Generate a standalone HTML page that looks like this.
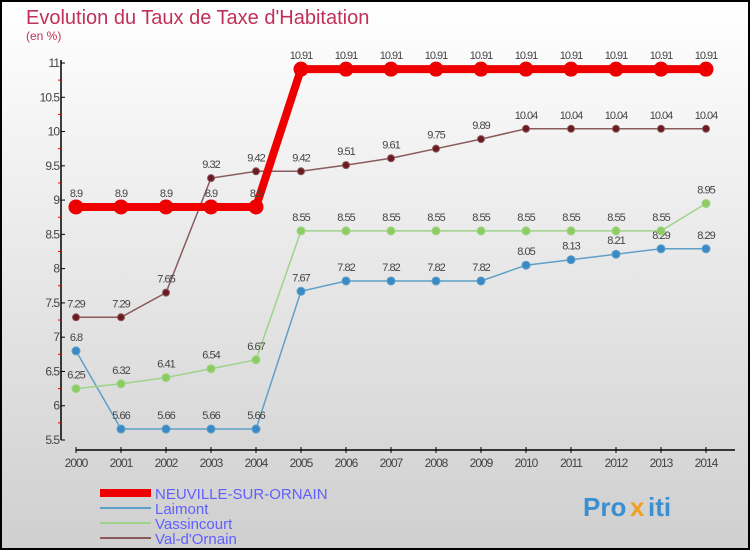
<!DOCTYPE html>
<html><head><meta charset="utf-8"><style>
body{margin:0;}
svg{display:block;font-family:"Liberation Sans",sans-serif;}
</style></head><body>
<svg id="c" width="750" height="550" xmlns="http://www.w3.org/2000/svg">
<defs><linearGradient id="bg" x1="0" y1="0" x2="0" y2="1"><stop offset="0" stop-color="#ffffff"/><stop offset="1" stop-color="#cfcfcf"/></linearGradient></defs>
<rect x="1" y="1" width="748" height="548" fill="url(#bg)" stroke="#000" stroke-width="2"/>
<text x="26" y="24" font-size="20" fill="#c0305a">Evolution du Taux de Taxe d'Habitation</text>
<text x="26" y="40" font-size="12" fill="#c0305a">(en %)</text>
<g id="axes"></g><g id="series"></g>
<g>
<rect x="100" y="489" width="51" height="8" fill="#e00"/>
<text x="155" y="499" font-size="15" fill="#6060ff">NEUVILLE-SUR-ORNAIN</text>
<rect x="100" y="507" width="51" height="2" fill="#5fa0c8"/>
<text x="155" y="514" font-size="15" fill="#6060ff">Laimont</text>
<rect x="100" y="522" width="51" height="2" fill="#9ed48a"/>
<text x="155" y="529" font-size="15" fill="#6060ff">Vassincourt</text>
<rect x="100" y="537" width="51" height="2" fill="#8a5a5a"/>
<text x="155" y="544" font-size="15" fill="#6060ff">Val-d'Ornain</text>
</g>
<g font-size="26" font-weight="bold">
<text x="583" y="516" fill="#3a8fd0">Pro</text><text x="630" y="516" fill="#f0a020">x</text><text x="648" y="516" fill="#3a8fd0">iti</text>
</g>
</svg>
<script>
const years=[2000,2001,2002,2003,2004,2005,2006,2007,2008,2009,2010,2011,2012,2013,2014];
const neuville=[8.9,8.9,8.9,8.9,8.9,10.91,10.91,10.91,10.91,10.91,10.91,10.91,10.91,10.91,10.91];
const laimont=[6.8,5.66,5.66,5.66,5.66,7.67,7.82,7.82,7.82,7.82,8.05,8.13,8.21,8.29,8.29];
const vassincourt=[6.25,6.32,6.41,6.54,6.67,8.55,8.55,8.55,8.55,8.55,8.55,8.55,8.55,8.55,8.95];
const valdornain=[7.29,7.29,7.65,9.32,9.42,9.42,9.51,9.61,9.75,9.89,10.04,10.04,10.04,10.04,10.04];
const yTicks=[5.5,6,6.5,7,7.5,8,8.5,9,9.5,10,10.5,11];
const NS="http://www.w3.org/2000/svg";
const X=i=>76+i*(706-76)/(years.length-1);
const Y=v=>440-(v-5.5)*(377/5.5);
function mk(t,a,p){const e=document.createElementNS(NS,t);for(const k in a)e.setAttribute(k,a[k]);p.appendChild(e);return e;}
const ax=document.getElementById('axes');
let l=mk('line',{x1:61,y1:60,x2:61,y2:440,stroke:'#000','stroke-width':1.5},ax);


l=mk('line',{x1:76,y1:450,x2:735,y2:450,stroke:'#000','stroke-width':1.5},ax);


yTicks.forEach((v,i)=>{
 mk('line',{x1:61,y1:Y(v),x2:65,y2:Y(v),stroke:'#000'},ax);
 if(i<yTicks.length-1)mk('line',{x1:58,y1:Y(v+0.25),x2:61,y2:Y(v+0.25),stroke:'#e00'},ax);
 const t=mk('text',{x:59,y:Y(v)+4,'font-size':12,fill:'#444','text-anchor':'end','letter-spacing':'-1'},ax);
 t.textContent=String(v);
 
 
});
years.forEach((y,i)=>{
 mk('line',{x1:X(i),y1:447,x2:X(i),y2:453,stroke:'#000'},ax);
 const t=mk('text',{x:X(i),y:467,'font-size':12,fill:'#444','text-anchor':'middle','letter-spacing':'-1'},ax);
 t.textContent=String(y);
 
 
});
const sg=document.getElementById('series');
function series(name,data,col,dot,w,r){
 const g=mk('g',{},sg);
 
 
 mk('polyline',{points:data.map((v,i)=>X(i)+','+Y(v)).join(' '),fill:'none',stroke:col,'stroke-width':w},g);
 data.forEach((v,i)=>{
  const c=mk('circle',{cx:X(i),cy:Y(v),r:r,fill:dot,stroke:col,'stroke-width':1},g);
  
  
  const t=mk('text',{x:X(i),y:Y(v)-10,'font-size':11,fill:'#444','text-anchor':'middle','letter-spacing':'-1'},g);
  t.textContent=String(v);
  
  
 });
}
series('laimont',laimont,'#5fa0c8','#3a8ac8',1.5,4);
series('vassincourt',vassincourt,'#9ed48a','#8ccc60',1.5,4);
series('val-dornain',valdornain,'#8a5a5a','#6a1a20',1.5,3.5);
series('neuville',neuville,'#e00','#e00',8,7);
</script>
</body></html>
